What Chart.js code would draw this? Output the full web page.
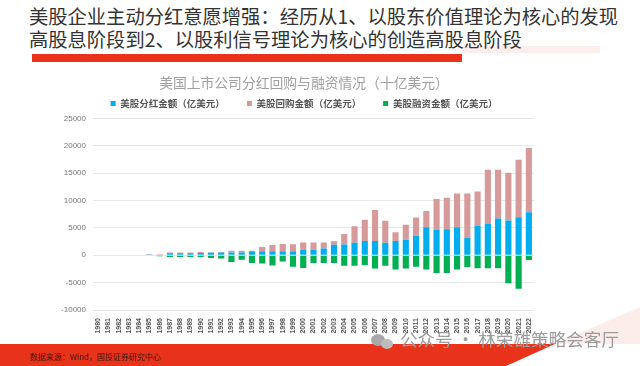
<!DOCTYPE html>
<html>
<head>
<meta charset="utf-8">
<script src="https://cdn.jsdelivr.net/npm/chart.js@4"></script>
<style>
	html, body { margin: 0; padding: 0; background: #fff; }
	body { width: 640px; height: 366px; position: relative; overflow: hidden; font-family: "Noto Sans CJK SC", sans-serif; filter: blur(0.4px); }
	.abs { position: absolute; white-space: nowrap; }
	#chartBox { position: absolute; left: 0; top: 0; width: 608px; height: 366px; }
	.heading { left: 29px; font-size: 19.3px; line-height: 23px; color: #333; }
</style>
</head>
<body>
<div class="abs" style="left:462px;top:46px;width:138px;height:7px;background:#fdeeee"></div>
<div class="abs" style="left:32px;top:54px;width:430px;height:8px;background:#e8321a"></div>
<div class="abs heading" style="top:5px">美股企业主动分红意愿增强：经历从1、以股东价值理论为核心的发现</div>
<div class="abs heading" style="top:28px">高股息阶段到2、以股利信号理论为核心的创造高股息阶段</div>
<div id="chartBox"><canvas id="chart"></canvas></div>
<div class="abs" style="left:0;top:307px;width:640px;height:59px;background:#e8321a;clip-path:polygon(0 37px,555px 37px,506px 59px,0 59px)"></div>
<div class="abs" style="left:555px;top:307px;width:85px;height:37px;background:#fcecea;clip-path:polygon(0 100%,100% 0,100% 100%)"></div>
<div class="abs" style="left:30px;top:351px;font-size:8px;line-height:12px;color:#3a1a10">数据来源：Wind，国投证券研究中心</div>
<div class="abs" style="left:371px;top:334px;width:14px;height:12px;border-radius:50%;background:#a8a8a8"></div>
<div class="abs" style="left:381px;top:339px;width:12px;height:10px;border-radius:50%;background:#bcbcbc"></div>
<div class="abs" style="left:400px;top:328px;font-size:17.6px;line-height:22px;color:#9c9c9c">公众号 · 林荣雄策略会客厅</div>
<script>
const years = ['1980','1981','1982','1983','1984','1985','1986','1987','1988','1989','1990','1991','1992','1993','1994','1995','1996','1997','1998','1999','2000','2001','2002','2003','2004','2005','2006','2007','2008','2009','2010','2011','2012','2013','2014','2015','2016','2017','2018','2019','2020','2021','2022'];
const dividends = [0,0,0,0,0,50,100,350,350,350,400,450,500,500,500,750,750,750,750,750,1000,1000,1250,1900,1950,2300,2600,2600,2300,2600,2850,3560,5100,4620,4740,5100,3260,5400,5700,6700,6350,6940,7830];
const buybacks = [0,0,0,0,0,100,100,150,150,150,200,100,100,300,300,50,750,1100,1300,1250,1350,1350,1100,650,1950,2980,3900,5650,4000,1600,2720,3320,2960,5640,5760,6170,8010,6220,9900,8900,8710,10490,11740];
const financing = [0,0,0,0,0,0,-200,-300,-300,-300,-300,-500,-600,-1250,-800,-1400,-1500,-1850,-1150,-2100,-2350,-1400,-1400,-1400,-1900,-1900,-1800,-2400,-1900,-2600,-2400,-2100,-2600,-3260,-3260,-2600,-2130,-2370,-2370,-2370,-5100,-6100,-890];
const seriesNames = ['美股分红金额（亿美元）','美股回购金额（亿美元）','美股融资金额（亿美元）'];
const chartTitle = '美国上市公司分红回购与融资情况（十亿美元）';
const cjk = '"Noto Sans CJK SC", sans-serif';

new Chart(document.getElementById('chart'), {
	type: 'bar',
	data: {
		labels: years,
		datasets: [
			{ label: seriesNames[0], data: dividends, backgroundColor: '#00aeef' },
			{ label: seriesNames[1], data: buybacks, backgroundColor: '#d69a9a' },
			{ label: seriesNames[2], data: financing, backgroundColor: '#00b050' }
		]
	},
	options: {
		responsive: true,
		maintainAspectRatio: false,
		animation: false,
		barPercentage: 0.6,
		categoryPercentage: 1,
		layout: { padding: { top: 74, right: 0, left: 0, bottom: 0 } },
		plugins: {
			title: {
				display: true,
				text: chartTitle,
				color: '#a0a0a0',
				font: { family: cjk, size: 13.8, weight: 'normal' },
				padding: { top: 0, bottom: -13.7 }
			},
			legend: {
				position: 'top',
				labels: {
					boxWidth: 5,
					boxHeight: 5,
					padding: 22,
					color: '#555',
					font: { family: cjk, size: 9.5, weight: 'bold' }
				}
			},
			tooltip: { enabled: false }
		},
		scales: {
			x: {
				stacked: true,
				grid: { display: false },
				border: { display: false },
				afterFit: s => { s.height = 56; },
				ticks: {
					autoSkip: false,
					minRotation: 90,
					maxRotation: 90,
					padding: 0,
					color: '#555',
					font: { family: 'Liberation Sans', size: 7, weight: 'bold' }
				}
			},
			y: {
				stacked: true,
				min: -10000,
				max: 25000,
				afterFit: s => { s.width = 93; },
				border: { display: false },
				grid: { color: '#e8e8e8', drawTicks: false },
				ticks: {
					stepSize: 5000,
					padding: 7,
					color: '#777',
					font: { family: 'Liberation Sans', size: 8 },
					callback: v => String(v)
				}
			},
			// empty axis on the right, only holds the plot in from the edge so the title stays centred
			spacer: {
				position: 'right',
				afterFit: s => { s.width = 74; },
				border: { display: false },
				grid: { display: false },
				ticks: { display: false }
			}
		}
	}
});
</script>
</body>
</html>
